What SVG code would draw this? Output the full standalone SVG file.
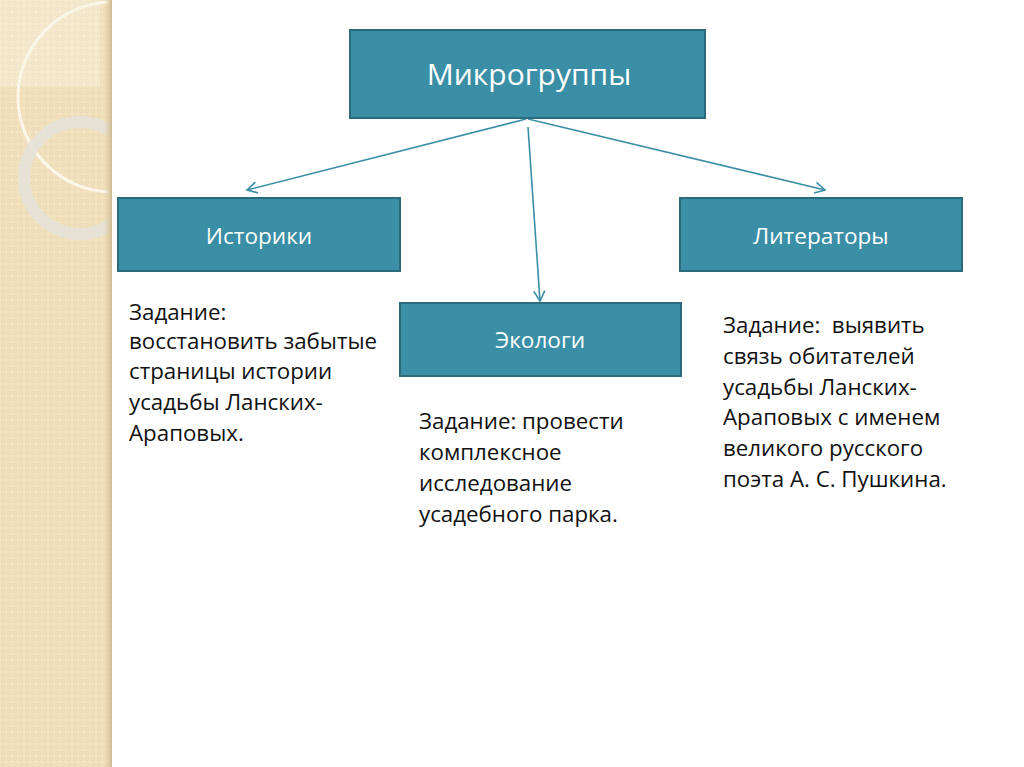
<svg xmlns="http://www.w3.org/2000/svg" width="1024" height="767" viewBox="0 0 1024 767">
<defs>
<style>
.box{fill:#3a8ea5;stroke:#2b6b7c;stroke-width:2}
.lbl{font-family:"Open Sans","Noto Sans",sans-serif;fill:#ffffff;text-anchor:middle}
.body{font-family:"Open Sans","Noto Sans",sans-serif;font-size:22.3px;fill:#111111}
.conn{stroke:#3a8ea5;stroke-width:1.6;fill:none}
</style>
<marker id="arr" markerWidth="14" markerHeight="14" refX="12" refY="7" orient="auto" markerUnits="userSpaceOnUse">
<path d="M2,1.5 L12,7 L2,12.5" fill="none" stroke="#3a8ea5" stroke-width="1.6"/>
</marker>
<pattern id="dots" width="6" height="6" patternUnits="userSpaceOnUse">
<rect width="6" height="6" fill="#f2e2bf"/>
<circle cx="3" cy="3" r="1.6" fill="none" stroke="#ead6ac" stroke-width="0.8"/>
</pattern>
<linearGradient id="edge" x1="0" x2="1" y1="0" y2="0">
<stop offset="0" stop-color="#e3cfa2" stop-opacity="0"/>
<stop offset="1" stop-color="#c9b48a"/>
</linearGradient>
<clipPath id="strip"><rect x="0" y="0" width="110" height="767"/></clipPath>
</defs>
<rect width="1024" height="767" fill="#ffffff"/>
<g id="background">
<rect x="0" y="0" width="110" height="767" fill="url(#dots)"/>
<g clip-path="url(#strip)">
<path d="M0,0 L100,0 L100,87 L0,87 Z" fill="#ffffff" opacity="0.25"/>
<circle cx="113" cy="97" r="95" fill="none" stroke="#fbf6ea" stroke-width="3"/>
<circle cx="80" cy="178" r="56" fill="none" stroke="#e6e2d8" stroke-width="12" opacity="0.9"/>
</g>
<rect x="104" y="0" width="8" height="767" fill="url(#edge)"/>
</g>
<g id="connectors">
<line class="conn" x1="526" y1="119" x2="247" y2="190" marker-end="url(#arr)"/>
<line class="conn" x1="528" y1="119" x2="825" y2="190" marker-end="url(#arr)"/>
<line class="conn" x1="528" y1="127" x2="540" y2="301" marker-end="url(#arr)"/>
</g>
<g id="node-mikrogruppy">
<rect class="box" x="350" y="30" width="355" height="88"/>
<text class="lbl" x="529" y="85" font-size="30">Микрогруппы</text>
</g>
<g id="node-istoriki">
<rect class="box" x="118" y="198" width="282" height="73"/>
<text class="lbl" x="259" y="244" font-size="22.6">Историки</text>
</g>
<g id="node-literatory">
<rect class="box" x="680" y="198" width="282" height="73"/>
<text class="lbl" x="821" y="244" font-size="22.6">Литераторы</text>
</g>
<g id="node-ekologi">
<rect class="box" x="400" y="303" width="281" height="73"/>
<text class="lbl" x="540" y="348" font-size="22.6">Экологи</text>
</g>
<g id="text-istoriki">
<text class="body" x="129" y="320">Задание:</text>
<text class="body" x="129" y="349">восстановить забытые</text>
<text class="body" x="129" y="379">страницы истории</text>
<text class="body" x="129" y="410">усадьбы Ланских-</text>
<text class="body" x="129" y="441">Араповых.</text>
</g>
<g id="text-ekologi">
<text class="body" x="419" y="429">Задание: провести</text>
<text class="body" x="419" y="460">комплексное</text>
<text class="body" x="419" y="491">исследование</text>
<text class="body" x="419" y="522">усадебного парка.</text>
</g>
<g id="text-literatory">
<text class="body" x="723" y="333" xml:space="preserve">Задание:  выявить</text>
<text class="body" x="723" y="364">связь обитателей</text>
<text class="body" x="723" y="395">усадьбы Ланских-</text>
<text class="body" x="723" y="425">Араповых с именем</text>
<text class="body" x="723" y="456">великого русского</text>
<text class="body" x="723" y="487">поэта А. С. Пушкина.</text>
</g>
</svg>
